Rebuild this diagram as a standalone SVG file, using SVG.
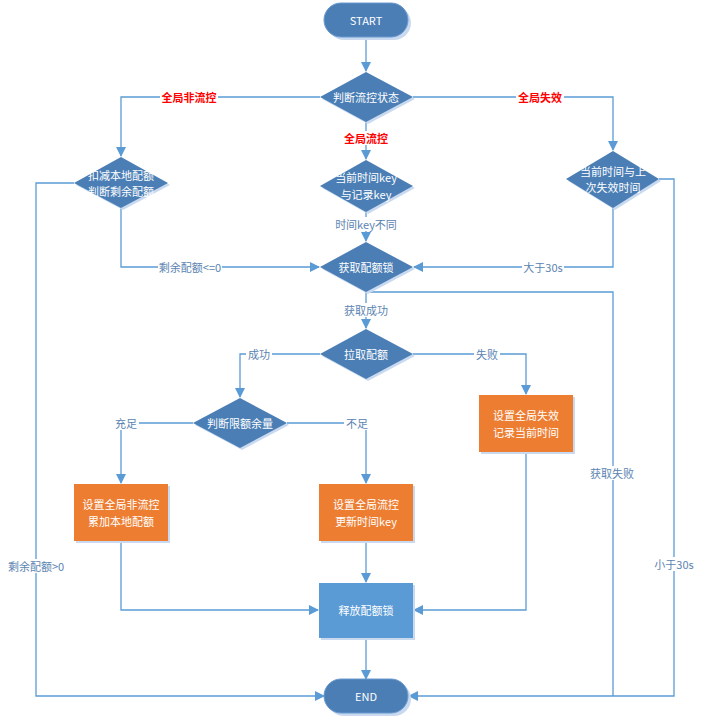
<svg xmlns="http://www.w3.org/2000/svg" width="717" height="720" viewBox="0 0 717 720">
<style>
.t{font-family:"Noto Sans CJK SC","Liberation Sans",sans-serif;font-size:11px;fill:#fff;text-anchor:middle;dominant-baseline:central}
.l{font-family:"Noto Sans CJK SC","Liberation Sans",sans-serif;font-size:11px;fill:#5b84b1;text-anchor:middle;dominant-baseline:central}
.r{font-family:"Noto Sans CJK SC","Liberation Sans",sans-serif;font-size:11px;font-weight:bold;fill:#ff0000;text-anchor:middle;dominant-baseline:central}
.d{fill:#4a7eb5}
.sh{fill:#c9daf0}
.o{fill:#ed7d31}
.b{fill:#5b9bd5}
.c{fill:none;stroke:#5b9bd5;stroke-width:1.3}
.bg{fill:#fff}
</style>
<defs>
<marker id="a" markerWidth="10" markerHeight="10" refX="9" refY="5" orient="auto" markerUnits="userSpaceOnUse">
<path d="M0,0 L10,5 L0,10 Z" fill="#5b9bd5"/>
</marker>
</defs>
<rect width="717" height="720" fill="#fff"/>
<g id="connectors">
<path class="c" d="M366,38 V71" marker-end="url(#a)"/>
<path class="c" d="M320,97 H121 V156" marker-end="url(#a)"/>
<path class="c" d="M413,97 H613 V150" marker-end="url(#a)"/>
<path class="c" d="M366,122 V159" marker-end="url(#a)"/>
<path class="c" d="M366,212 V241" marker-end="url(#a)"/>
<path class="c" d="M121,208 V267 H319" marker-end="url(#a)"/>
<path class="c" d="M613,208 V267 H414" marker-end="url(#a)"/>
<path class="c" d="M74,183 H36 V696 H324" marker-end="url(#a)"/>
<path class="c" d="M659,179 H674 V696 H409" marker-end="url(#a)"/>
<path class="c" d="M366,292 H613 V696"/>
<path class="c" d="M366,292 V328" marker-end="url(#a)"/>
<path class="c" d="M320,354 H240 V397" marker-end="url(#a)"/>
<path class="c" d="M413,354 H526 V394" marker-end="url(#a)"/>
<path class="c" d="M193,423 H121 V483" marker-end="url(#a)"/>
<path class="c" d="M287,423 H366 V483" marker-end="url(#a)"/>
<path class="c" d="M366,541 V582" marker-end="url(#a)"/>
<path class="c" d="M121,541 V610 H318" marker-end="url(#a)"/>
<path class="c" d="M526,452 V610 H414" marker-end="url(#a)"/>
<path class="c" d="M366,638 V679" marker-end="url(#a)"/>
<rect class="bg" x="160" y="90" width="58" height="14"/>
<text class="r" x="189" y="97">全局非流控</text>
<rect class="bg" x="516" y="90" width="48" height="14"/>
<text class="r" x="540" y="97">全局失效</text>
<rect class="bg" x="342" y="131" width="48" height="14"/>
<text class="r" x="366" y="138">全局流控</text>
<rect class="bg" x="334" y="217" width="64" height="14"/>
<text class="l" x="366" y="224">时间key不同</text>
<rect class="bg" x="158" y="260" width="64" height="14"/>
<text class="l" x="190" y="267">剩余配额&lt;=0</text>
<rect class="bg" x="522" y="260" width="42" height="14"/>
<text class="l" x="543" y="267">大于30s</text>
<rect class="bg" x="342" y="303" width="48" height="14"/>
<text class="l" x="366" y="310">获取成功</text>
<rect class="bg" x="246" y="347" width="26" height="14"/>
<text class="l" x="259" y="354">成功</text>
<rect class="bg" x="474" y="347" width="26" height="14"/>
<text class="l" x="487" y="354">失败</text>
<rect class="bg" x="113" y="416" width="26" height="14"/>
<text class="l" x="126" y="423">充足</text>
<rect class="bg" x="344" y="416" width="26" height="14"/>
<text class="l" x="357" y="423">不足</text>
<rect class="bg" x="588" y="466" width="48" height="14"/>
<text class="l" x="612" y="473">获取失败</text>
<rect class="bg" x="8" y="559" width="56" height="14"/>
<text class="l" x="36" y="566">剩余配额&gt;0</text>
<rect class="bg" x="654" y="557" width="40" height="14"/>
<text class="l" x="674" y="564">小于30s</text>
</g>
<g id="start">
<rect class="sh" x="327" y="6" width="84" height="34" rx="17"/>
<rect class="d" x="324" y="3" width="84" height="34" rx="17" stroke="#6a9ad0" stroke-width="1"/>
<text class="t" x="366" y="20">START</text>
</g>
<g id="judge-state">
<polygon class="sh" points="368,74 415,99 368,124 322,99"/>
<polygon class="d" points="366,72 413,97 366,122 320,97"/>
<text class="t" x="366" y="97">判断流控状态</text>
</g>
<g id="deduct-local">
<polygon class="sh" points="123,159 170,185 123,210 76,185"/>
<polygon class="d" points="121,157 168,183 121,208 74,183"/>
<text class="t" x="121" y="175">扣减本地配额</text>
<text class="t" x="121" y="191">判断剩余配额</text>
</g>
<g id="time-key">
<polygon class="sh" points="368,162 415,188 368,214 322,188"/>
<polygon class="d" points="366,160 413,186 366,212 320,186"/>
<text class="t" x="366" y="177">当前时间key</text>
<text class="t" x="366" y="194">与记录key</text>
</g>
<g id="fail-time">
<polygon class="sh" points="615,153 661,181 615,210 568,181"/>
<polygon class="d" points="613,151 659,179 613,208 566,179"/>
<text class="t" x="613" y="171">当前时间与上</text>
<text class="t" x="613" y="187">次失效时间</text>
</g>
<g id="get-lock">
<polygon class="sh" points="368,244 415,269 368,294 322,269"/>
<polygon class="d" points="366,242 413,267 366,292 320,267"/>
<text class="t" x="366" y="267">获取配额锁</text>
</g>
<g id="pull-quota">
<polygon class="sh" points="368,331 415,356 368,381 322,356"/>
<polygon class="d" points="366,329 413,354 366,379 320,354"/>
<text class="t" x="366" y="354">拉取配额</text>
</g>
<g id="judge-remain">
<polygon class="sh" points="242,400 289,425 242,450 195,425"/>
<polygon class="d" points="240,398 287,423 240,448 193,423"/>
<text class="t" x="240" y="423">判断限额余量</text>
</g>
<g id="set-fail">
<rect class="sh" x="481" y="397" width="94" height="57"/>
<rect class="o" x="479" y="395" width="94" height="57"/>
<text class="t" x="526" y="415">设置全局失效</text>
<text class="t" x="526" y="432">记录当前时间</text>
</g>
<g id="set-nonflow">
<rect class="sh" x="76" y="486" width="94" height="57"/>
<rect class="o" x="74" y="484" width="94" height="57"/>
<text class="t" x="121" y="504">设置全局非流控</text>
<text class="t" x="121" y="521">累加本地配额</text>
</g>
<g id="set-flow">
<rect class="sh" x="321" y="486" width="94" height="57"/>
<rect class="o" x="319" y="484" width="94" height="57"/>
<text class="t" x="366" y="504">设置全局流控</text>
<text class="t" x="366" y="521">更新时间key</text>
</g>
<g id="release-lock">
<rect class="sh" x="321" y="585" width="94" height="55"/>
<rect class="b" x="319" y="583" width="94" height="55"/>
<text class="t" x="366" y="610">释放配额锁</text>
</g>
<g id="end">
<rect class="sh" x="327" y="682" width="84" height="34" rx="17"/>
<rect class="d" x="324" y="679" width="84" height="34" rx="17" stroke="#6a9ad0" stroke-width="1"/>
<text class="t" x="366" y="696">END</text>
</g>
</svg>
